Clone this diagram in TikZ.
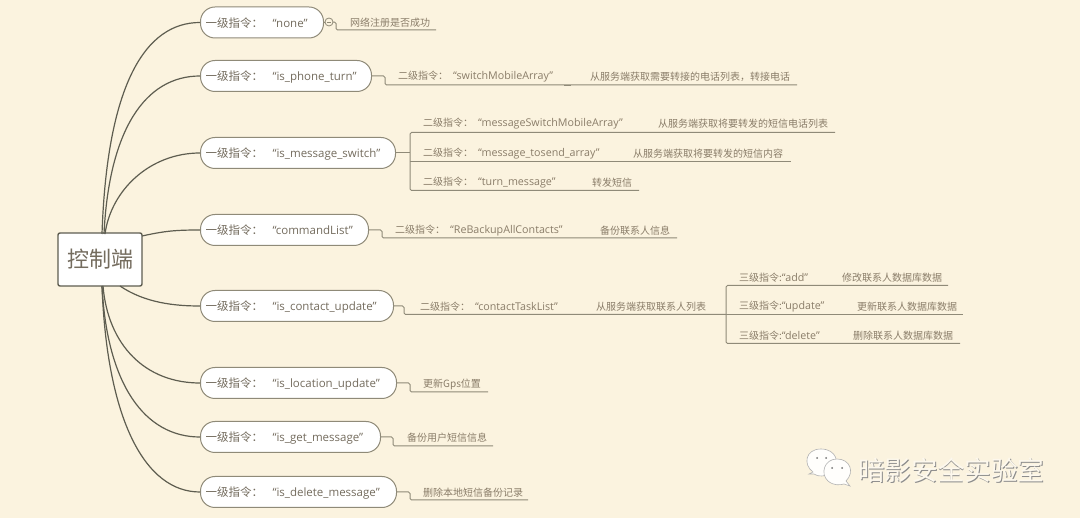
\documentclass[tikz,border=0pt]{standalone}
\usepackage{fontspec}
\setmainfont{Open Sans}
\newfontfamily\cjk{Noto Sans CJK SC}
\newcommand{\pilltext}[1]{\smash{\raisebox{-4.6pt}{\mbox{{\cjk 一级指令：}\hspace{9.5pt}“#1”}}}}
\newcommand{\subtext}[2]{{\cjk\fontsize{10}{12}\selectfont #1}\hspace{5pt}“#2”}
\definecolor{paper}{HTML}{FBF3DF}
\definecolor{ink}{HTML}{746C5E}
\definecolor{leaf}{HTML}{8A7D69}
\definecolor{rule}{HTML}{8F8A78}
\definecolor{trunk}{HTML}{5E5D50}
\tikzset{
  x=1pt,y=-1pt,
  pill/.style={draw=rule,line width=1pt,fill=white,rounded corners=14.5pt,anchor=west,minimum height=31pt,inner xsep=5pt,inner ysep=0pt,align=left,text=ink,font=\fontsize{11.5}{14}\selectfont},
  root/.style={draw=trunk,line width=1.4pt,fill=white,rounded corners=2pt,minimum width=84pt,minimum height=53pt,inner sep=0pt,text=ink,font=\cjk\fontsize{22}{26}\selectfont},
  lab/.style={anchor=west,inner sep=0pt,yshift=-1pt,text=leaf,font=\fontsize{10.7}{12}\selectfont},
  note/.style={lab,font=\cjk\fontsize{10}{12}\selectfont},
  bough/.style={draw=trunk,line width=1.2pt},
  twig/.style={draw=rule,line width=1pt,rounded corners=1.5pt},
  mark3/.style={draw=rule,line width=.8pt,fill=paper,circle,minimum size=8pt,inner sep=0pt},
}
\begin{document}
\begin{tikzpicture}
\useasboundingbox[fill=paper] (0,0) rectangle (1080,518);

\coordinate (rt1) at (102,234);
\coordinate (rt2) at (104,234);
\coordinate (rt3) at (105,234);
\coordinate (rr4) at (142,236);
\coordinate (rb5) at (120,286);
\coordinate (rb6) at (103,286);
\coordinate (rb7) at (102,286);
\coordinate (rb8) at (102,286);

\node[pill,text width=113pt] (a1) at (200,22.5) {\pilltext{none}};
\node[pill,text width=161pt] (a2) at (200,76) {\pilltext{is\_phone\_turn}};
\node[pill,text width=185pt] (a3) at (200,153) {\pilltext{is\_message\_switch}};
\node[pill,text width=158pt] (a4) at (200,230) {\pilltext{commandList}};
\node[pill,text width=183pt] (a5) at (200,306) {\pilltext{is\_contact\_update}};
\node[pill,text width=186pt] (a6) at (200,383) {\pilltext{is\_location\_update}};
\node[pill,text width=170pt] (a7) at (200,437) {\pilltext{is\_get\_message}};
\node[pill,text width=186pt] (a8) at (200,492) {\pilltext{is\_delete\_message}};
\node[root] (c) at (100,259.5) {控制端};

\draw[bough] (rt1) .. controls (107,85) and (145,22.5) .. (a1.west);
\draw[bough] (rt2) .. controls (109,130) and (145,76) .. (a2.west);
\draw[bough] (rt3) .. controls (111,190) and (150,153) .. (a3.west);
\draw[bough] (rr4) .. controls (165,231) and (175,230) .. (a4.west);
\draw[bough] (rb5) .. controls (145,303) and (175,306) .. (a5.west);
\draw[bough] (rb6) .. controls (108,345) and (145,383) .. (a6.west);
\draw[bough] (rb7) .. controls (107,385) and (145,437) .. (a7.west);
\draw[bough] (rb8) .. controls (107,420) and (145,492) .. (a8.west);

\node[note] (b1) at (350,22) {网络注册是否成功};
\coordinate (e1) at (436,30);
\draw[twig] (a1.east) -- (336,22) -- (336,30) -- (e1);
\node[mark3] (m1) at (329,22) {};
\draw[rule,line width=.7pt] (m1.center) ++(-2,0) -- ++(4,0);

\node[lab] (b2) at (398,76) {\subtext{二级指令：}{switchMobileArray}};
\node[note] (b2t) at (590,76) {从服务端获取需要转接的电话列表，转接电话};
\coordinate (e2) at (797,85);
\coordinate (t2a) at (564,85.5);
\coordinate (t2b) at (571,85.5);
\draw[twig] (a2.east) -- (385,76) -- (385,85) -- (e2);
\draw[rule,line width=1.6pt] (t2a) -- (t2b);

\coordinate (j3) at (410,153);
\draw[twig] (a3.east) -- (j3);
\node[lab] (b31) at (423,123) {\subtext{二级指令：}{messageSwitchMobileArray}};
\node[note] (b31t) at (658,123) {从服务端获取将要转发的短信电话列表};
\node[lab] (b32) at (423,153) {\subtext{二级指令：}{message\_tosend\_array}};
\node[note] (b32t) at (633,153) {从服务端获取将要转发的短信内容};
\node[lab] (b33) at (423,182) {\subtext{二级指令：}{turn\_message}};
\node[note] (b33t) at (592,182) {转发短信};
\coordinate (e31) at (835,132.5);
\coordinate (e32) at (791,161.5);
\coordinate (e33) at (639,190.5);
\draw[twig] (e31) -- (410,132.5) -- (410,190.5) -- (e33);
\draw[twig] (410,161.5) -- (e32);

\node[lab] (b4) at (395,230) {\subtext{二级指令：}{ReBackupAllContacts}};
\node[note] (b4t) at (600,230) {备份联系人信息};
\coordinate (e4) at (677,238);
\draw[twig] (a4.east) -- (382,230) -- (382,238) -- (e4);

\node[lab] (b5) at (420,306) {\subtext{二级指令：}{contactTaskList}};
\node[note] (b5t) at (596,306) {从服务端获取联系人列表};
\coordinate (j5) at (726,314.5);
\draw[twig] (a5.east) -- (404,306) -- (404,314.5) -- (j5);
\node[lab] (c1) at (739,277) {{\cjk\fontsize{10}{12}\selectfont 三级指令:}“add”};
\node[note] (c1t) at (842,277) {修改联系人数据库数据};
\node[lab] (c2) at (739,306) {{\cjk\fontsize{10}{12}\selectfont 三级指令:}“update”};
\node[note] (c2t) at (857,306) {更新联系人数据库数据};
\node[lab] (c3) at (739,335) {{\cjk\fontsize{10}{12}\selectfont 三级指令:}“delete”};
\node[note] (c3t) at (853,335) {删除联系人数据库数据};
\coordinate (e51) at (948,285.5);
\coordinate (e52) at (963,314.5);
\coordinate (e53) at (960,343.5);
\draw[twig] (e51) -- (726,285.5) -- (726,343.5) -- (e53);
\draw[twig] (j5) -- (e52);

\node[note] (b6) at (423,383) {更新Gps位置};
\coordinate (e6) at (488,392);
\draw[twig] (a6.east) -- (410,383) -- (410,392) -- (e6);
\node[note] (b7) at (407,437) {备份用户短信信息};
\coordinate (e7) at (493,446);
\draw[twig] (a7.east) -- (393,437) -- (393,446) -- (e7);
\node[note] (b8) at (423,492) {删除本地短信备份记录};
\coordinate (e8) at (528,500);
\draw[twig] (a8.east) -- (410,492) -- (410,500) -- (e8);

\begin{scope}[draw=black!30,line width=.6pt,fill=white!90!paper]
\filldraw (809,474) -- (813,472) .. controls (803,465) and (805,449) .. (821,449)
  .. controls (836,449) and (841,463) .. (832,472) .. controls (825,477) and (818,477) .. (814,474) -- cycle;
\filldraw (850,486) -- (846,481) .. controls (855,472) and (850,459) .. (837,459)
  .. controls (824,459) and (820,474) .. (828,481) .. controls (834,486) and (840,485) .. (844,484) -- cycle;
\end{scope}
\fill[black!55] (817,458) circle (1pt) (826,458) circle (1pt) (832,468) circle (1pt) (842,468) circle (1pt);
\node[anchor=west,inner sep=0pt,text=black!45,font=\cjk\fontsize{26.6}{30}\selectfont] (w0) at (858.8,470.8) {暗影安全实验室};
\node[anchor=west,inner sep=0pt,text=paper!55!white,font=\cjk\fontsize{26.6}{30}\selectfont] (w) at (858,470) {暗影安全实验室};
\end{tikzpicture}
\end{document}
